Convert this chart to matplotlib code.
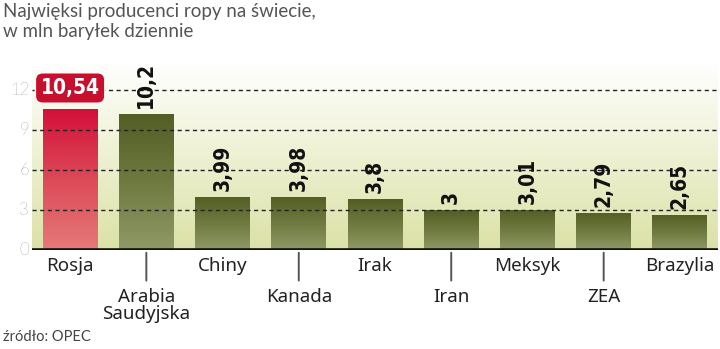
import numpy as np
import matplotlib
matplotlib.use("Agg")
import matplotlib.pyplot as plt
from matplotlib.colors import LinearSegmentedColormap

categories = ["Rosja", "Arabia\nSaudyjska", "Chiny", "Kanada", "Irak", "Iran", "Meksyk", "ZEA", "Brazylia"]
values = [10.54, 10.2, 3.99, 3.98, 3.8, 3.0, 3.01, 2.79, 2.65]
value_labels = ["10,54", "10,2", "3,99", "3,98", "3,8", "3", "3,01", "2,79", "2,65"]
yticks = [0, 3, 6, 9, 12]

fig = plt.figure(figsize=(7.2, 3.49), dpi=100)
ax = fig.add_axes([32/720, 1 - 250/349, (718-32)/720, (250-62)/349])
ymax = 188 / (40/3)
ax.set_xlim(-0.5, len(categories) - 0.5)
ax.set_ylim(0, ymax)

# background gradient
bg = LinearSegmentedColormap.from_list("bg", ["#dbe1a6", "#eef1d2", "#ffffff"])
grad = np.linspace(0, 1, 256).reshape(-1, 1)
ax.imshow(grad, cmap=bg, aspect="auto", origin="lower",
          extent=(-0.5, len(categories) - 0.5, 0, ymax), zorder=0)

green = LinearSegmentedColormap.from_list("g", ["#8f9966", "#6f7a40", "#535e25"])
red = LinearSegmentedColormap.from_list("r", ["#e57a7a", "#dc4a58", "#d3103a"])
x = np.arange(len(categories))
bars = ax.bar(x, values, width=0.72, color="none", edgecolor="none", zorder=2)
for i, b in enumerate(bars):
    cm = red if i == 0 else green
    im = ax.imshow(grad, cmap=cm, aspect="auto", origin="lower",
                   extent=(b.get_x(), b.get_x() + b.get_width(), 0, b.get_height()), zorder=2)
    im.set_clip_path(b)

# gridlines
for t in yticks[1:]:
    ax.axhline(t, color="#222222", lw=1.0, ls=(0, (3, 2.5)), zorder=3)
ax.axhline(0, color="#111111", lw=2.6, zorder=4)

for s in ax.spines.values():
    s.set_visible(False)
ax.set_xticks([])
ax.set_yticks([])

# y labels
for t in yticks:
    ax.text(-0.5 - 3/76.3, t, str(t), ha="right", va="center", fontsize=12,
            color="#555555", family="Lato", fontweight="light", zorder=5)

# value labels
for i, (v, lab) in enumerate(zip(values, value_labels)):
    if i == 0:
        ax.text(i, 12.15, lab, ha="center", va="center", fontsize=15, color="white",
                fontweight="bold", family="DejaVu Sans", fontstretch="condensed", zorder=6,
                bbox=dict(boxstyle="round,pad=0.25,rounding_size=0.35", fc="#c8102e", ec="white", lw=1))
    else:
        ax.text(i, v + 0.45, lab, ha="center", va="bottom", rotation=90, fontsize=15,
                color="#111111", fontweight="bold", family="DejaVu Sans",
                fontstretch="condensed", zorder=6)

# category labels
for i, c in enumerate(categories):
    if i % 2 == 0:
        ax.text(i, -0.55, c, ha="center", va="top", fontsize=13.5, color="#222222",
                family="Noto Sans", clip_on=False)
    else:
        ax.annotate("", xy=(i, 0), xytext=(i, -2.5), arrowprops=dict(arrowstyle="-", color="#555555", lw=1.4),
                    annotation_clip=False)
        ax.text(i, -2.85, c, ha="center", va="top", fontsize=13.5, color="#222222",
                family="Noto Sans", linespacing=0.95, clip_on=False)

fig.text(3/720, 1 - 3/349, "Najwięksi producenci ropy na świecie,\nw mln baryłek dziennie",
         ha="left", va="top", fontsize=13.5, color="#555555", family="Lato", fontweight="normal",
         linespacing=1.25)
fig.text(3/720, 1 - 337/349, "źródło: OPEC", ha="left", va="center", fontsize=10.5,
         color="#444444", family="Lato", fontweight="normal")

fig.savefig("out.png", dpi=100)
